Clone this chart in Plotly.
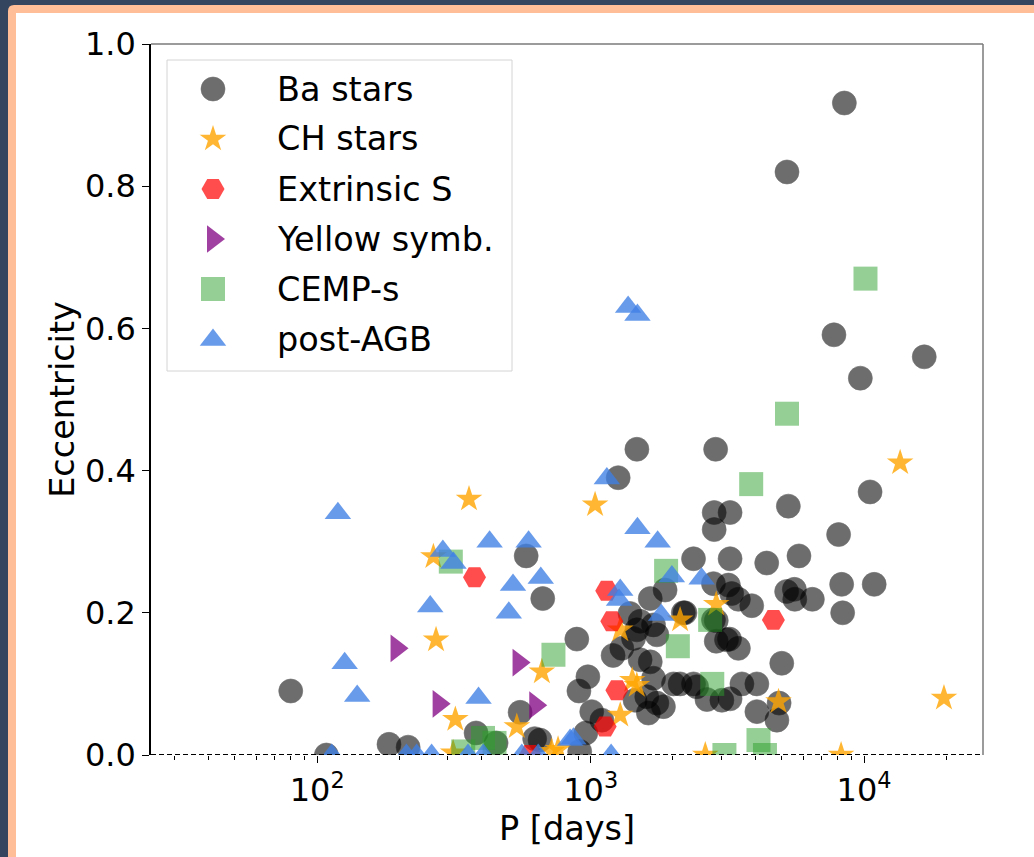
import plotly.graph_objects as go

# ---- data: orbital period [days] and eccentricity per class ----
ba_period = [80, 108, 183, 215, 381, 451, 552, 624, 581, 668, 890, 977, 906, 1009, 1099,
             960, 912, 653, 1261, 1476, 2865, 1208, 1300, 1435, 1393, 1517, 1476, 1652,
             1872, 1698, 1747, 2213, 1517, 1652, 1698, 1604, 1747, 1846, 1626, 1454, 2010,
             2442, 2663, 3020, 3575, 4055, 4055, 4800, 4890, 5000, 5210, 2813, 3190, 2813,
             2880, 3140, 3470, 3883, 3280, 2378, 3236, 4405, 2830, 3236, 2830, 5285, 5780,
             8070, 8280, 10890, 8350, 10520, 5560, 5580, 6470, 3470, 2182, 2880, 3220, 2378,
             3236, 8470, 5225, 7760, 16600, 9690, 2124]
ba_ecc = [0.09, 0.0, 0.015, 0.011, 0.031, 0.017, 0.06, 0.023, 0.28, 0.22, 0.163, 0.11, 0.09,
          0.061, 0.049, 0.031, 0.005, 0.021, 0.39, 0.43, 0.43, 0.14, 0.15, 0.164, 0.199,
          0.188, 0.176, 0.22, 0.232, 0.183, 0.169, 0.2, 0.134, 0.131, 0.108, 0.082, 0.073,
          0.068, 0.059, 0.077, 0.1, 0.096, 0.078, 0.077, 0.1, 0.1, 0.061, 0.049, 0.073,
          0.129, 0.23, 0.241, 0.239, 0.19, 0.16, 0.162, 0.15, 0.21, 0.227, 0.276, 0.276,
          0.27, 0.341, 0.341, 0.317, 0.35, 0.28, 0.31, 0.24, 0.24, 0.2, 0.37, 0.233, 0.219,
          0.219, 0.219, 0.2, 0.189, 0.163, 0.1, 0.079, 0.917, 0.82, 0.591, 0.56, 0.53, 0.1]

ch_period = [359, 1038, 13550, 19600, 272, 266, 320, 537, 663, 1283, 1475, 1420, 1283, 2124,
             2880, 4865, 314, 720, 760, 2626, 8240]
ch_ecc = [0.36, 0.352, 0.411, 0.08, 0.162, 0.279, 0.05, 0.04, 0.117, 0.176, 0.098, 0.105,
          0.056, 0.19, 0.212, 0.075, 0.003, 0.005, 0.008, 0.0, 0.0]

exs_period = [376, 1145, 1195, 1247, 1130, 4660, 601]
exs_ecc = [0.25, 0.231, 0.188, 0.091, 0.04, 0.19, 0.0]

ysym_period = [195, 278, 545, 627]
ysym_ecc = [0.15, 0.072, 0.13, 0.07]

cemp_period = [10120, 5225, 3865, 1888, 731, 308, 2084, 2736, 2785, 4110, 3085, 4340, 404,
               445, 342]
cemp_ecc = [0.67, 0.48, 0.381, 0.259, 0.141, 0.272, 0.153, 0.19, 0.1, 0.021, 0.0, 0.0, 0.024,
            0.017, 0.005]

pagb_period = [119, 288, 259, 126, 140, 113, 212, 231, 262, 315, 427, 593, 520, 657, 502, 389,
               1146, 1483, 1758, 1283, 1270, 1811, 1982, 2546, 865, 356, 405, 560, 643, 1188,
               841, 1371, 1483]
pagb_ecc = [0.34, 0.287, 0.209, 0.129, 0.083, 0.0, 0.0, 0.0, 0.0, 0.27, 0.3, 0.3, 0.239, 0.249,
            0.2, 0.08, 0.389, 0.319, 0.3, 0.232, 0.218, 0.197, 0.251, 0.248, 0.023, 0.0, 0.0,
            0.0, 0.0, 0.0, 0.021, 0.63, 0.619]

x_tick_vals = [100, 1000, 10000]
x_tick_text = ["10<sup>2</sup>", "10<sup>3</sup>", "10<sup>4</sup>"]
y_tick_vals = [0.0, 0.2, 0.4, 0.6, 0.8, 1.0]

# ---- styles per class ----
groups = [
    ("Ba stars", ba_period, ba_ecc, dict(symbol="circle", size=24, color="black", opacity=0.57,
                                          line=dict(width=0.6, color="black"))),
    ("CH stars", ch_period, ch_ecc, dict(symbol="star", size=20, color="#ffa500", opacity=0.8,
                                          line=dict(width=0))),
    ("Extrinsic S", exs_period, exs_ecc, dict(symbol="hexagon2", size=23, color="#ff0000",
                                               opacity=0.7, line=dict(width=0))),
    ("Yellow symb.", ysym_period, ysym_ecc, dict(symbol="triangle-right", size=24,
                                                  color="#800080", opacity=0.75,
                                                  line=dict(width=0))),
    ("CEMP-s", cemp_period, cemp_ecc, dict(symbol="square", size=24, color="#2ca02c",
                                           opacity=0.5, line=dict(width=0))),
    ("post-AGB", pagb_period, pagb_ecc, dict(symbol="triangle-up", size=23, color="#3f7fe6",
                                             opacity=0.78, line=dict(width=0))),
]

FONT = "DejaVu Sans"
W, H = 1034, 857
PX0, PX1, PY0, PY1 = 151, 983, 44, 755  # plot area in pixels


def fx(px):
    return (px - PX0) / (PX1 - PX0)


def fy(py):
    return (PY1 - py) / (PY1 - PY0)


fig = go.Figure()

for name, P, e, mk in groups:
    fig.add_trace(go.Scatter(x=P, y=e, mode="markers", name=name, marker=mk,
                             showlegend=False, cliponaxis=True, hoverinfo="x+y+name"))

# ---- legend drawn on an overlay axis spanning the plot area ----
row_y = [89, 139, 189, 239, 289, 340]
for (name, P, e, mk), ry in zip(groups, row_y):
    fig.add_trace(go.Scatter(x=[fx(213)], y=[fy(ry)], mode="markers", marker=mk,
                             xaxis="x2", yaxis="y2", showlegend=False, cliponaxis=False,
                             hoverinfo="skip"))
    fig.add_annotation(x=fx(275), y=fy(ry), xref="paper", yref="paper", text=name,
                       showarrow=False, xanchor="left", yanchor="middle",
                       font=dict(family=FONT, size=33.5, color="black"))


# rounded outline of the page frame
def rounded_rect(x0, y0, x1, y1, r):
    return (f"M{fx(x0 + r)},{fy(y0)} L{fx(x1)},{fy(y0)} L{fx(x1)},{fy(y1)} "
            f"L{fx(x0)},{fy(y1)} L{fx(x0)},{fy(y0 + r)} "
            f"Q{fx(x0)},{fy(y0)} {fx(x0 + r)},{fy(y0)} Z")


shapes = [
    dict(type="path", xref="paper", yref="paper", path=rounded_rect(8, 5, 1045, 870, 6),
         fillcolor="#ffbe98", line=dict(width=0), layer="below"),
    dict(type="rect", xref="paper", yref="paper", x0=fx(16), x1=fx(1045), y0=fy(13), y1=fy(870),
         fillcolor="white", line=dict(width=0), layer="below"),
    # legend box
    dict(type="rect", xref="paper", yref="paper", x0=fx(167), x1=fx(512), y0=fy(60), y1=fy(371),
         fillcolor="rgba(255,255,255,0.8)", line=dict(width=1, color="#d4d4d4"), layer="below"),
    # top and right spines
    dict(type="line", xref="paper", yref="paper", x0=0, x1=1, y0=1, y1=1,
         line=dict(width=1.5, color="#7a7a7a"), layer="above"),
    dict(type="line", xref="paper", yref="paper", x0=1, x1=1, y0=0, y1=1,
         line=dict(width=1.5, color="#7a7a7a"), layer="above"),
    # zero-eccentricity reference line
    dict(type="line", xref="paper", yref="y", x0=0, x1=1, y0=0, y1=0,
         line=dict(width=2, color="black", dash="5px,3px"), layer="above"),
]

fig.update_layout(
    width=W, height=H, autosize=False,
    margin=dict(l=PX0, r=W - PX1, t=PY0, b=H - PY1, pad=0),
    paper_bgcolor="#34465f", plot_bgcolor="white",
    font=dict(family=FONT, size=32, color="black"),
    shapes=shapes,
    xaxis=dict(type="log", range=[1.392, 4.435], tickvals=x_tick_vals, ticktext=x_tick_text,
               ticks="outside", ticklen=7, tickwidth=1, tickcolor="black",
               showgrid=False, zeroline=False, showline=False,
               tickfont=dict(family=FONT, size=32, color="black"),
               minor=dict(ticks="outside", ticklen=4, tickwidth=1, tickcolor="black",
                          dtick="D1", showgrid=False),
               title=dict(text="P [days]", standoff=0,
                          font=dict(family=FONT, size=33.5, color="black"))),
    yaxis=dict(range=[0, 1], tickvals=y_tick_vals, tickformat=".1f",
               ticks="outside", ticklen=7, tickwidth=1, tickcolor="black",
               showgrid=False, zeroline=False, showline=True, linecolor="black", linewidth=1.5,
               tickfont=dict(family=FONT, size=32, color="black"),
               title=dict(text="Eccentricity", standoff=0,
                          font=dict(family=FONT, size=33.5, color="black"))),
    xaxis2=dict(overlaying="x", range=[0, 1], visible=False, fixedrange=True),
    yaxis2=dict(overlaying="y", range=[0, 1], visible=False, fixedrange=True),
    hovermode="closest",
)

fig.write_html("out.html")
